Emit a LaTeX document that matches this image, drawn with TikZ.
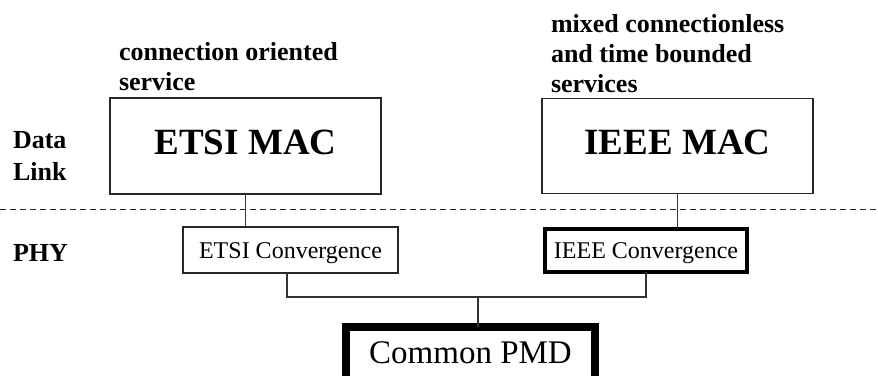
\documentclass[tikz,border=0pt]{standalone}
\usepackage{fontspec}
\setmainfont{Liberation Serif}
\begin{document}
\begin{tikzpicture}[x=1pt,y=-1pt,
  thinbox/.style={draw=black!85,line width=1.3pt,inner sep=0pt,outer sep=0pt,rectangle},
  macbox/.style={thinbox,font=\fontsize{37}{40}\selectfont\bfseries,text height=24.5pt,text depth=7pt},
  convbox/.style={thinbox,font=\fontsize{24}{26}\selectfont,text height=16pt,text depth=0pt},
  boldconv/.style={convbox,draw=black,line width=4pt},
  pmdbox/.style={thinbox,draw=black,line width=8pt,font=\fontsize{33}{38}\selectfont,text height=22pt,text depth=7pt},
  lbl/.style={inner sep=0pt,outer sep=0pt,align=left,anchor=west,font=\fontsize{26}{30}\selectfont\bfseries},
  conn/.style={draw=black!80,line width=1.3pt}]
\useasboundingbox (0,0) rectangle (878,375);
\clip (0,0) rectangle (878,375);
% layer labels
\node[lbl,font=\fontsize{26}{32}\selectfont\bfseries] (dlink) at (13,156) {Data\\Link};
\node[lbl] (phy) at (13,253) {PHY};
% service texts
\node[lbl] (csvc) at (119,67) {connection oriented\\service};
\node[lbl] (msvc) at (551,54) {mixed connectionless\\and time bounded\\services};
% boxes
\node[macbox,minimum width=271pt,minimum height=96pt] (emac) at (245.5,146) {ETSI MAC};
\node[macbox,minimum width=271pt,minimum height=95pt] (imac) at (677.5,146) {IEEE MAC};
\node[convbox,minimum width=215pt,minimum height=46pt] (econv) at (290.5,250) {ETSI Convergence};
\node[boldconv,minimum width=202pt,minimum height=43.5pt] (iconv) at (646,250.5) {IEEE Convergence};
\node[pmdbox,minimum width=249pt,minimum height=58pt] (pmd) at (470.5,356) {Common PMD};
% dashed separator
\coordinate (dl) at (0,209.5);
\coordinate (dr) at (878,209.5);
\draw[black!85,line width=1.8pt,dash pattern=on 6pt off 4pt] (dl) -- (dr);
% bus coordinates
\coordinate (bl) at (287,297);
\coordinate (br) at (646,297);
\coordinate (bj) at (478,297);
% connectors
\draw[conn] (emac.south) -- (emac.south |- econv.north);
\draw[conn] (imac.south) -- (imac.south |- iconv.north);
\draw[conn] (econv.south -| bl) -- (bl) -- (br) -- (iconv.south);
\draw[conn] (bj) -- (bj |- pmd.north);
\end{tikzpicture}
\end{document}
